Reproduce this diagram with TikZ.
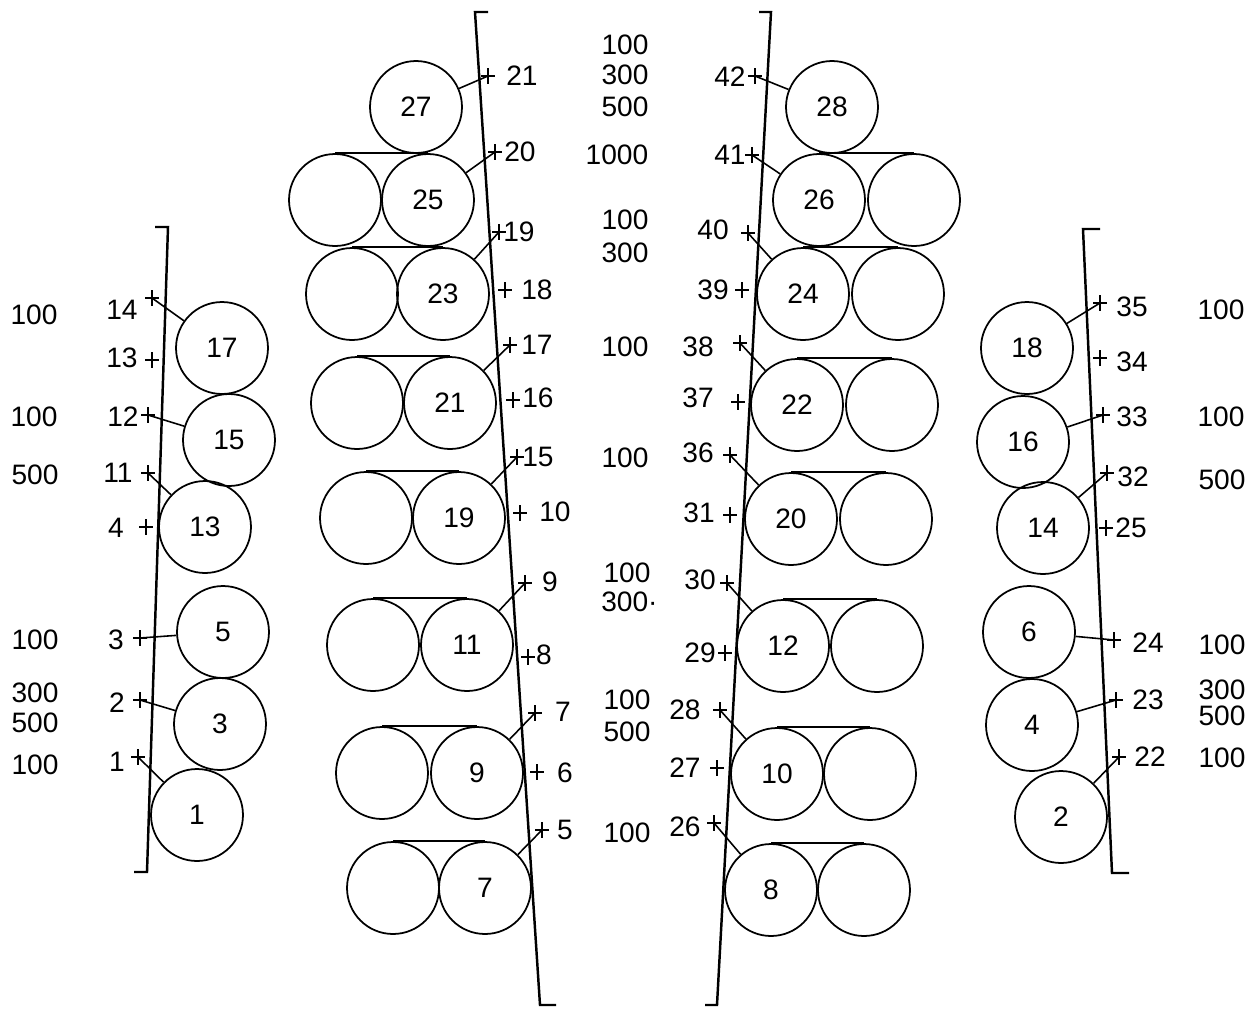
\documentclass[tikz,border=0pt]{standalone}
\usepackage{fontspec}
\setmainfont{Liberation Sans}
\usetikzlibrary{calc}
\newcommand\pmk[3]{\coordinate (#1) at (#2,#3);
  \draw[lead] (#1) +(-7,0) -- +(7,0) (#1) +(0,-8) -- +(0,8);}
\begin{document}
\begin{tikzpicture}[x=0.02cm,y=-0.02cm,
  roll/.style={circle,draw,line width=1pt,minimum size=1.84cm,inner sep=0pt,font=\fontsize{16}{18}\selectfont},
  wall/.style={line width=1.4pt},
  lead/.style={line width=0.9pt},
  belt/.style={line width=1pt},
  lbl/.style={inner sep=0pt,font=\fontsize{16}{18}\selectfont}]
\useasboundingbox (0,0) rectangle (1259,1015);

% ---------------- walls ----------------
\coordinate (LWt) at (168,227); \coordinate (LWb) at (147,872);
\draw[wall] ($(LWt)+(-13,0)$) -- (LWt) -- (LWb) -- ++(-13,0);
\coordinate (CLt) at (475,12); \coordinate (CLb) at (540,1005);
\draw[wall] ($(CLt)+(13,0)$) -- (CLt) -- (CLb) -- ++(16,0);
\coordinate (CRt) at (771,12); \coordinate (CRb) at (717,1005);
\draw[wall] ($(CRt)+(-12,0)$) -- (CRt) -- (CRb) -- ++(-12,0);
\coordinate (RWt) at (1083,229); \coordinate (RWb) at (1112,873);
\draw[wall] ($(RWt)+(17,0)$) -- (RWt) -- (RWb) -- ++(17,0);

% ---------------- left column ----------------
\node[roll] (c17) at (222,348) {17};
\node[roll] (c15) at (229,440) {15};
\node[roll] (c13) at (205,527) {13};
\node[roll] (c5) at (223,632) {5};
\node[roll] (c3) at (220,724) {3};
\node[roll] (c1) at (197,815) {1};

% ---------------- centre-left column ----------------
\node[roll] (c27) at (416,107) {27};
\node[roll] (c25) at (428,200) {25}; \node[roll] (b25) at (335,200) {};
\node[roll] (c23) at (443,294) {23}; \node[roll] (b23) at (352,294) {};
\node[roll] (c21) at (450,403) {21}; \node[roll] (b21) at (357,403) {};
\node[roll] (c19) at (459,518) {19}; \node[roll] (b19) at (366,518) {};
\node[roll] (c11) at (467,645) {11}; \node[roll] (b11) at (373,645) {};
\node[roll] (c9) at (477,773) {9}; \node[roll] (b9) at (382,773) {};
\node[roll] (c7) at (485,888) {7}; \node[roll] (b7) at (393,888) {};
\foreach \n in {25,23,21,19,11,9,7} \draw[belt] (b\n.north) -- (c\n.north);

% ---------------- centre-right column ----------------
\node[roll] (c28) at (832,107) {28};
\node[roll] (c26) at (819,200) {26}; \node[roll] (b26) at (914,200) {};
\node[roll] (c24) at (803,294) {24}; \node[roll] (b24) at (898,294) {};
\node[roll] (c22) at (797,405) {22}; \node[roll] (b22) at (892,405) {};
\node[roll] (c20) at (791,519) {20}; \node[roll] (b20) at (886,519) {};
\node[roll] (c12) at (783,646) {12}; \node[roll] (b12) at (877,646) {};
\node[roll] (c10) at (777,774) {10}; \node[roll] (b10) at (870,774) {};
\node[roll] (c8) at (771,890) {8}; \node[roll] (b8) at (864,890) {};
\foreach \n in {26,24,22,20,12,10,8} \draw[belt] (c\n.north) -- (b\n.north);

% ---------------- right column ----------------
\node[roll] (c18) at (1027,348) {18};
\node[roll] (c16) at (1023,442) {16};
\node[roll] (c14) at (1043,528) {14};
\node[roll] (c6) at (1029,632) {6};
\node[roll] (c4) at (1032,725) {4};
\node[roll] (c2) at (1061,817) {2};

% ---------------- marks: left wall ----------------
\pmk{x14}{152}{298} \pmk{x13}{152}{360} \pmk{x12}{148}{415} \pmk{x11}{148}{473}
\pmk{x4}{146}{527} \pmk{x3}{140}{638} \pmk{x2}{140}{700} \pmk{x1}{138}{757}
\node[lbl] (t14) at (122,310) {14};
\node[lbl] (t13) at (122,358) {13};
\node[lbl] (t12) at (123,417) {12};
\node[lbl] (t11) at (118,473) {11};
\node[lbl] (t4) at (116,528) {4};
\node[lbl] (t3) at (116,640) {3};
\node[lbl] (t2) at (117,703) {2};
\node[lbl] (t1) at (117,762) {1};

% ---------------- marks: centre-left wall ----------------
\pmk{x21}{488}{76} \pmk{x20}{495}{152} \pmk{x19}{499}{232} \pmk{x18}{505}{290}
\pmk{x17}{510}{345} \pmk{x16}{513}{400} \pmk{x15}{517}{457} \pmk{x10}{520}{513}
\pmk{x9}{525}{583} \pmk{x8}{528}{657} \pmk{x7}{535}{713} \pmk{x6}{537}{772}
\pmk{x5}{542}{830}
\node[lbl] (t21) at (522,76) {21};
\node[lbl] (t20) at (520,152) {20};
\node[lbl] (t19) at (519,232) {19};
\node[lbl] (t18) at (537,290) {18};
\node[lbl] (t17) at (537,345) {17};
\node[lbl] (t16) at (538,398) {16};
\node[lbl] (t15) at (538,457) {15};
\node[lbl] (t10) at (555,512) {10};
\node[lbl] (t9) at (550,582) {9};
\node[lbl] (t8) at (544,655) {8};
\node[lbl] (t7) at (563,712) {7};
\node[lbl] (t6) at (565,773) {6};
\node[lbl] (t5) at (565,830) {5};

% ---------------- marks: centre-right wall ----------------
\pmk{x42}{755}{76} \pmk{x41}{752}{155} \pmk{x40}{748}{233} \pmk{x39}{742}{290}
\pmk{x38}{740}{343} \pmk{x37}{738}{402} \pmk{x36}{730}{455} \pmk{x31}{730}{515}
\pmk{x30}{727}{583} \pmk{x29}{725}{653} \pmk{x28}{720}{710} \pmk{x27}{717}{768}
\pmk{x26}{714}{823}
\node[lbl] (t42) at (730,77) {42};
\node[lbl] (t41) at (730,155) {41};
\node[lbl] (t40) at (713,230) {40};
\node[lbl] (t39) at (713,290) {39};
\node[lbl] (t38) at (698,347) {38};
\node[lbl] (t37) at (698,398) {37};
\node[lbl] (t36) at (698,453) {36};
\node[lbl] (t31) at (699,513) {31};
\node[lbl] (t30) at (700,580) {30};
\node[lbl] (t29) at (700,653) {29};
\node[lbl] (t28) at (685,710) {28};
\node[lbl] (t27) at (685,768) {27};
\node[lbl] (t26) at (685,827) {26};

% ---------------- marks: right wall ----------------
\pmk{x35}{1100}{303} \pmk{x34}{1100}{358} \pmk{x33}{1103}{415} \pmk{x32}{1107}{473}
\pmk{x25}{1106}{528} \pmk{x24}{1114}{640} \pmk{x23}{1116}{700} \pmk{x22}{1119}{757}
\node[lbl] (t35) at (1132,307) {35};
\node[lbl] (t34) at (1132,362) {34};
\node[lbl] (t33) at (1132,417) {33};
\node[lbl] (t32) at (1133,477) {32};
\node[lbl] (t25) at (1131,528) {25};
\node[lbl] (t24) at (1148,643) {24};
\node[lbl] (t23) at (1148,700) {23};
\node[lbl] (t22) at (1150,757) {22};

% ---------------- leaders ----------------
\foreach \a/\b in {x14/c17,x12/c15,x11/c13,x3/c5,x2/c3,x1/c1,
  x21/c27,x20/c25,x19/c23,x17/c21,x15/c19,x9/c11,x7/c9,x5/c7,
  x42/c28,x41/c26,x40/c24,x38/c22,x36/c20,x30/c12,x28/c10,x26/c8,
  x35/c18,x33/c16,x32/c14,x24/c6,x23/c4,x22/c2}
  \draw[lead] (\a) -- (\b);

% ---------------- value labels ----------------
\node[lbl] (vl1) at (34,315) {100};
\node[lbl] (vl2) at (34,417) {100};
\node[lbl] (vl3) at (35,475) {500};
\node[lbl] (vl4) at (35,640) {100};
\node[lbl] (vl5) at (35,693) {300};
\node[lbl] (vl6) at (35,723) {500};
\node[lbl] (vl7) at (35,765) {100};

\node[lbl] (vm1) at (625,45) {100};
\node[lbl] (vm2) at (625,75) {300};
\node[lbl] (vm3) at (625,107) {500};
\node[lbl] (vm4) at (617,155) {1000};
\node[lbl] (vm5) at (625,220) {100};
\node[lbl] (vm6) at (625,253) {300};
\node[lbl] (vm7) at (625,347) {100};
\node[lbl] (vm8) at (625,458) {100};
\node[lbl] (vm9) at (627,573) {100};
\node[lbl,anchor=west] (vm10) at (601,602) {300·};
\node[lbl] (vm11) at (627,700) {100};
\node[lbl] (vm12) at (627,732) {500};
\node[lbl] (vm13) at (627,833) {100};

\node[lbl] (vr1) at (1221,310) {100};
\node[lbl] (vr2) at (1221,417) {100};
\node[lbl] (vr3) at (1222,480) {500};
\node[lbl] (vr4) at (1222,645) {100};
\node[lbl] (vr5) at (1222,690) {300};
\node[lbl] (vr6) at (1222,716) {500};
\node[lbl] (vr7) at (1222,758) {100};
\end{tikzpicture}
\end{document}
